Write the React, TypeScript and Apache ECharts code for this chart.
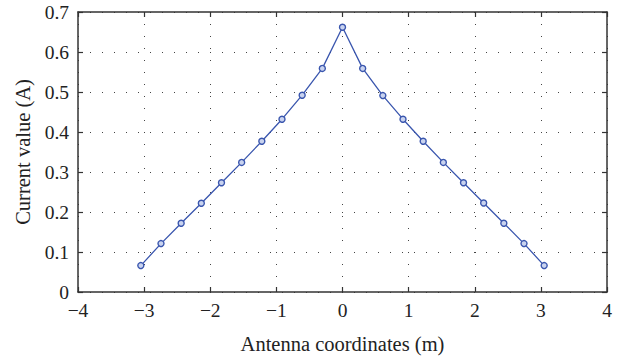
import React, { useEffect, useRef } from "react";
import * as echarts from "echarts";

const xValues = [-3.05, -2.745, -2.44, -2.135, -1.83, -1.525, -1.22, -0.915, -0.61, -0.305, 0, 0.305, 0.61, 0.915, 1.22, 1.525, 1.83, 2.135, 2.44, 2.745, 3.05];
const currentValues = [0.066, 0.121, 0.172, 0.222, 0.273, 0.324, 0.377, 0.432, 0.492, 0.559, 0.662, 0.559, 0.491, 0.432, 0.377, 0.324, 0.273, 0.2225, 0.172, 0.121, 0.066];

const xTitle = "Antenna coordinates (m)";
const yTitle = "Current value (A)";

const FONT = "Liberation Serif";
const AXIS_COLOR = "#333";

export default function App() {
  const ref = useRef<HTMLDivElement>(null);
  useEffect(() => {
    if (!ref.current) return;
    const chart = echarts.init(ref.current, undefined, { renderer: "svg" });
    const data = xValues.map((x, i) => [x, currentValues[i]]);
    const fmt = (v: number) => String(v).replace("-", "\u2212");
    const grid = { type: [1, 11] as any, color: "#444", width: 1 };
    chart.setOption({
      animation: false,
      backgroundColor: "#fff",
      grid: { left: 78, right: 21, top: 12, bottom: 66, containLabel: false, outerBoundsMode: "none" },
      xAxis: [
        {
          type: "value",
          min: -4,
          max: 4,
          interval: 1,
          position: "bottom",
          name: xTitle,
          nameLocation: "middle",
          nameGap: 41,
          nameTextStyle: { fontFamily: FONT, fontSize: 20.5, color: "#222" },
          axisLine: { show: true, onZero: false, lineStyle: { color: AXIS_COLOR, width: 1.5 } },
          axisTick: { show: true, inside: true, length: 5, lineStyle: { color: AXIS_COLOR, width: 1.2 } },
          axisLabel: { formatter: fmt, fontFamily: FONT, fontSize: 19.5, color: "#222", margin: 8 },
          splitLine: { show: true, lineStyle: grid },
        },
        {
          type: "value",
          min: -4,
          max: 4,
          interval: 1,
          position: "top",
          axisLine: { show: true, onZero: false, lineStyle: { color: AXIS_COLOR, width: 1.5 } },
          axisTick: { show: true, inside: true, length: 5, lineStyle: { color: AXIS_COLOR, width: 1.2 } },
          axisLabel: { show: false },
          splitLine: { show: false },
        },
      ],
      yAxis: [
        {
          type: "value",
          min: 0,
          max: 0.7,
          interval: 0.1,
          position: "left",
          name: yTitle,
          nameLocation: "middle",
          nameGap: 43,
          nameTextStyle: { fontFamily: FONT, fontSize: 20.5, color: "#222" },
          axisLine: { show: true, onZero: false, lineStyle: { color: AXIS_COLOR, width: 1.5 } },
          axisTick: { show: true, inside: true, length: 5, lineStyle: { color: AXIS_COLOR, width: 1.2 } },
          axisLabel: { formatter: (v: number) => String(Math.round(v * 10) / 10), fontFamily: FONT, fontSize: 19.5, color: "#222", margin: 9 },
          splitLine: { show: true, lineStyle: grid },
        },
        {
          type: "value",
          min: 0,
          max: 0.7,
          interval: 0.1,
          position: "right",
          axisLine: { show: true, onZero: false, lineStyle: { color: AXIS_COLOR, width: 1.5 } },
          axisTick: { show: true, inside: true, length: 5, lineStyle: { color: AXIS_COLOR, width: 1.2 } },
          axisLabel: { show: false },
          splitLine: { show: false },
        },
      ],
      series: [
        {
          type: "line",
          xAxisIndex: 0,
          yAxisIndex: 0,
          data,
          symbol: "circle",
          symbolSize: 6,
          showSymbol: true,
          lineStyle: { color: "#3a56ae", width: 1.3 },
          itemStyle: { color: "#c9d3ef", borderColor: "#3a56ae", borderWidth: 1.4 },
        },
      ],
    });
    return () => chart.dispose();
  }, []);
  return <div ref={ref} style={{ width: 628, height: 358, position: "absolute", left: 0, top: 0 }} />;
}
